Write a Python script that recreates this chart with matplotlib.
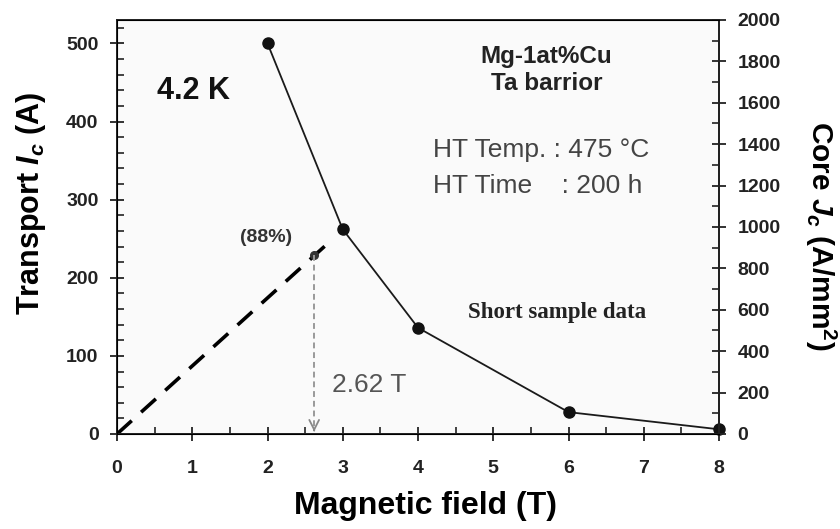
import matplotlib
matplotlib.use("Agg")
import matplotlib.pyplot as plt
from matplotlib.ticker import MultipleLocator

# measured short sample data, 4.2 K
field_t = [2, 3, 4, 6, 8]
transport_ic = [500, 262, 136, 28, 6]

# load line from origin and the crossing point (88 %)
load_x = [0, 2.79]
load_y = [0, 243]
crit_field = 2.62
crit_ic = 229

x_ticks = [0, 1, 2, 3, 4, 5, 6, 7, 8]
left_ticks = [0, 100, 200, 300, 400, 500]
right_ticks = [0, 200, 400, 600, 800, 1000, 1200, 1400, 1600, 1800, 2000]

plt.rcParams["font.family"] = ["Liberation Sans", "DejaVu Sans"]
plt.rcParams["mathtext.fontset"] = "custom"
plt.rcParams["mathtext.rm"] = "Liberation Sans:bold"
plt.rcParams["mathtext.it"] = "Liberation Sans:bold:italic"
plt.rcParams["mathtext.bf"] = "Liberation Sans:bold"

fig = plt.figure(figsize=(8.4, 5.29), dpi=100)
ax = fig.add_axes([0.1393, 0.1796, 0.7167, 0.7826])
ax.set_facecolor("#fafafa")

ax.plot(load_x, load_y, color="black", lw=2.6, dashes=(5.5, 3.5), solid_capstyle="butt")
ax.plot([crit_field], [crit_ic], "o", color="#333333", ms=5.5)
ax.plot([crit_field, crit_field], [crit_ic, 4], color="#999999", lw=1.4, dashes=(3, 2))
ax.annotate("", xy=(crit_field, 3), xytext=(crit_field, 5),
            arrowprops=dict(arrowstyle="->,head_length=0.7,head_width=0.35",
                            color="#888888", lw=1.3))

ax.plot(field_t, transport_ic, color="#1a1a1a", lw=1.3, marker="o", ms=8,
        mfc="#111111", mec="#111111", clip_on=False, zorder=5)

ax.set_xlim(0, 8)
ax.set_ylim(0, 530)
ax.set_xticks(x_ticks)
ax.set_yticks(left_ticks)
ax.xaxis.set_minor_locator(MultipleLocator(0.5))
ax.yaxis.set_minor_locator(MultipleLocator(20))

for side in ["left", "right", "top", "bottom"]:
    ax.spines[side].set_linewidth(1.4)
    ax.spines[side].set_color("#222222")

ax.tick_params(which="major", direction="inout", length=9.5, width=1.3,
               labelsize=14, colors="#222222")
ax.tick_params(axis="x", which="major", pad=14)
ax.tick_params(axis="y", which="major", pad=8.5)
ax.tick_params(which="minor", direction="in", length=5, width=1.2, colors="#222222")
for lbl in ax.get_xticklabels() + ax.get_yticklabels():
    lbl.set_fontweight("bold")

ax2 = ax.twinx()
ax2.set_ylim(0, 2000)
ax2.set_yticks(right_ticks)
ax2.yaxis.set_minor_locator(MultipleLocator(100))
ax2.spines["right"].set_linewidth(1.4)
ax2.spines["right"].set_color("#222222")
ax2.tick_params(which="major", direction="inout", length=9.5, width=1.3,
                labelsize=14, pad=8.5, colors="#222222")
ax2.tick_params(which="minor", direction="in", length=5, width=1.2, colors="#222222")
for lbl in ax2.get_yticklabels():
    lbl.set_fontweight("bold")

ax.set_xlabel("Magnetic field (T)", fontsize=23, fontweight="bold")
ax.xaxis.set_label_coords(0.513, -0.138)
ax.set_ylabel("Transport $I_c$ (A)", fontsize=22, fontweight="bold")
ax.yaxis.set_label_coords(-0.115, 0.557)
ax2.set_ylabel("Core $J_c$ (A/mm$^2$)", fontsize=21.5, fontweight="bold",
               rotation=270, va="bottom")
ax2.yaxis.set_label_coords(1.14, 0.478)

ax.text(1.01, 439, "4.2 K", fontsize=22, fontweight="bold", color="#111111",
        ha="center", va="center")
ax.text(5.71, 483, "Mg-1at%Cu", fontsize=17.5, fontweight="bold", color="#222222",
        ha="center", va="center")
ax.text(5.71, 449, "Ta barrior", fontsize=17.5, fontweight="bold", color="#222222",
        ha="center", va="center")
ax.text(4.2, 354, "HT Temp. : 475 \u00b0C", fontsize=19, color="#444444",
        ha="left", va="baseline")
ax.text(4.2, 308, "HT Time    : 200 h", fontsize=19, color="#444444",
        ha="left", va="baseline")
ax.text(1.98, 252, "(88%)", fontsize=14, fontweight="bold", color="#333333",
        ha="center", va="center")
ax.text(2.86, 54, "2.62 T", fontsize=19, color="#555555", ha="left", va="baseline")
ax.text(4.66, 148, "Short sample data", fontsize=16.5, fontweight="bold",
        family="Liberation Serif", color="#222222", ha="left", va="baseline")

fig.savefig("out.png", dpi=100)
